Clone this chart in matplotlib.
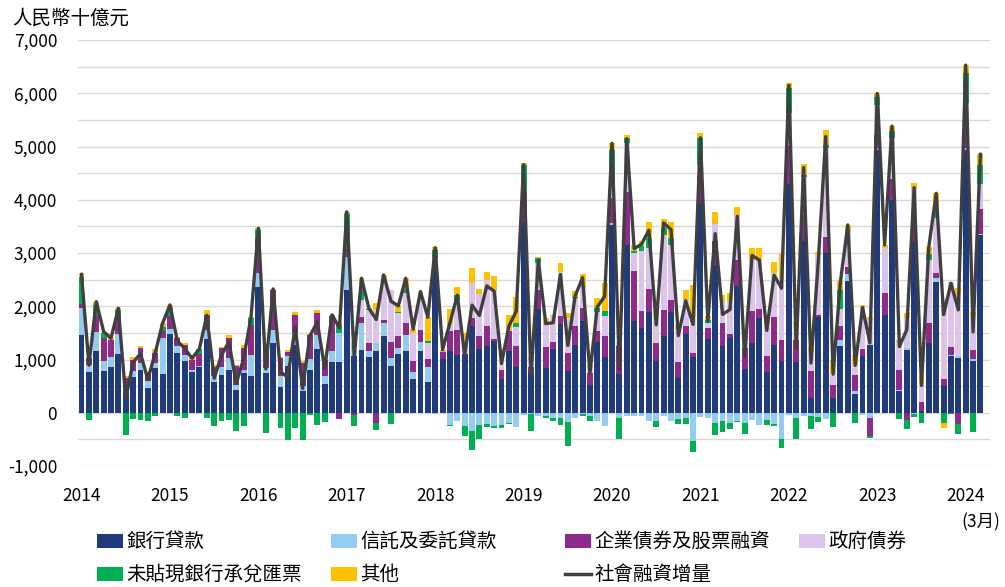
import numpy as np
import matplotlib
matplotlib.use("Agg")
import matplotlib.pyplot as plt
from matplotlib.patches import Rectangle
from matplotlib.lines import Line2D
from matplotlib.ticker import FuncFormatter, MultipleLocator

plt.rcParams['font.family'] = ['Noto Sans CJK TC', 'DejaVu Sans']

# ---------------- data (RMB billion), monthly Jan-2014 .. Mar-2024 ----------------
year_labels = ['2014', '2015', '2016', '2017', '2018', '2019',
               '2020', '2021', '2022', '2023', '2024']
last_label = '(3月)'

bank_loans = [
    1462, 756, 1169, 787, 850, 1106, 356, 662, 794, 462, 837, 731,      # 2014
    1481, 1119, 981, 762, 856, 1381, 569, 706, 794, 419, 744, 694,      # 2015
    2356, 744, 1307, 481, 869, 1276, 400, 794, 1201, 544, 944, 944,     # 2016
    2308, 1057, 1182, 1038, 1151, 1445, 882, 1101, 1151, 638, 1151, 575,  # 2017
    2714, 1013, 1151, 1088, 1107, 1632, 1195, 1257, 1351, 632, 1151, 857,  # 2018
    3590, 744, 1945, 838, 1195, 1664, 775, 1263, 1714, 525, 1320, 1038,  # 2019
    3527, 731, 3152, 1714, 1589, 1901, 963, 1445, 1883, 650, 1476, 1044,  # 2020
    3921, 1382, 2777, 1245, 1413, 2383, 819, 1307, 1770, 757, 1276, 963,  # 2021
    4290, 944, 3233, 275, 1795, 3008, 275, 1245, 2483, 356, 1069, 1263,   # 2022
    4934, 1839, 3996, 400, 1182, 3215, 30, 1307, 2464, 494, 1057, 1026,   # 2023
    4934, 963, 3340,                                                      # 2024
]
trust_entrusted = [
    500, 144, 356, 187, 206, 375, 0, 131, 137, 125, 94, 669,
    94, 137, 106, 44, 20, 175, 112, 162, 231, 94, 62, 394,
    275, 100, 238, 200, 188, 219, 94, 212, 262, 138, 225, 550,
    625, 219, 500, 131, 156, 238, 144, 112, 312, 119, 169, 281,
    -20, 0, -225, -163, -256, -350, -225, -206, -244, -225, -194, -275,
    -38, -20, -69, -69, -100, -100, -181, -100, -30, -60, -162, -244,
    44, -100, -69, -69, -69, -162, -162, -69, -150, -119, -100, -538,
    -81, -100, -194, -162, -194, -162, -194, -131, -225, -131, -212, -500,
    -38, -94, -60, -60, -81, -119, 0, 125, 125, 44, -50, -94,
    31, 0, 0, 31, 31, -31, 0, 0, 75, 0, 31, 31,
    31, 50, 19,
]
corp_bonds_equity = [
    81, 125, 294, 425, 312, 294, 294, 200, 281, 144, 200, 137,
    244, 144, 187, 187, 231, 281, 187, 344, 375, 356, 406, 563,
    644, 330, 769, 344, 75, 344, 438, 456, 406, 312, 650, -119,
    150, -50, 112, 138, -194, 50, 312, 219, 219, 206, 225, 150,
    94, 119, 388, 469, 0, 144, 238, 375, 31, 175, 375, 388,
    531, 120, 363, 406, 125, 144, 344, 369, 250, 219, 206, 406,
    456, 520, 1000, 950, 313, 425, 356, 488, 238, 300, 156, 75,
    531, 206, 456, 438, 69, 488, 394, 606, 175, 313, 519, 406,
    719, 413, 481, 500, 44, 300, 250, 263, 138, 313, 125, -344,
    250, 419, 394, 375, -144, 344, 175, 375, 81, 144, 156, -219,
    500, 169, 469,
]
gov_bonds = [
    0, 0, 0, 0, 0, 0, 0, 0, 0, 0, 0, 0,
    0, 0, 0, 0, 0, 0, 0, 0, 0, 0, 0, 0,
    0, 0, 0, 0, 0, 0, 0, 0, 0, 0, 0, 0,
    0, 0, 325, 625, 625, 763, 969, 438, 563, 531, 700, 300,
    94, 0, 100, 563, 300, 657, 800, 863, 925, 281, 20, 356,
    0, 150, 500, 406, 488, 831, 656, 519, 406, 94, 375, 375,
    219, 50, 906, 331, 1144, 763, 600, 1407, 1032, 606, 488, 688,
    200, 94, 313, 388, 625, 844, 230, 956, 925, 600, 825, 1157,
    613, 300, 719, 375, 1126, 1657, 219, 313, 625, 188, 800, 481,
    563, 832, 775, 531, 563, 650, 313, 1188, 1032, 1500, 1188, 1157,
    344, 625, 469,
]
bank_acceptances = [
    512, -144, 206, 94, 0, 156, -412, -112, -144, -150, -69, 81,
    144, -69, -100, 0, 94, -100, -250, -162, -131, -350, -256, 125,
    150, -381, 0, -287, -506, -287, -506, -37, -225, -181, 0, 156,
    650, -200, 188, 10, -125, 0, -213, 31, 75, 0, 0, 50,
    156, 0, -31, 94, -175, -344, -269, -62, -44, -62, -20, 81,
    531, -330, 94, -31, -50, -125, -438, 31, -40, -100, 62, 100,
    688, -394, 94, 50, 88, 188, -106, 125, 125, -88, -106, -206,
    500, 62, -219, -206, -113, -20, -200, 0, 0, -94, -44, -156,
    469, -406, 25, -250, -94, 62, -269, 363, 0, -200, 0, -44,
    156, 0, 125, -125, -169, -50, -194, 106, 156, -200, -31, -188,
    563, -369, 356,
]
others = [
    44, 12, 62, 31, 31, 31, 31, 62, 44, 44, 62, 62,
    62, 19, 31, 30, 0, 94, 31, 31, 62, 31, 62, 19,
    40, 30, 12, 31, 38, 62, 31, 20, 62, 20, 20, 62,
    40, 30, 219, 20, 138, 94, 0, 106, 206, 75, 31, 438,
    62, 50, 306, 156, 100, 281, 88, 156, 263, 125, 294, 500,
    44, 30, 30, 125, 31, 181, 106, 112, 238, 62, 188, 512,
    125, 0, 62, 106, 100, 313, 0, 169, 313, 100, 188, 594,
    94, 75, 231, 144, 138, 156, 0, 219, 219, 100, 219, 469,
    94, 50, 206, 94, 62, 281, 250, 156, 156, 188, 31, 50,
    62, 62, 94, 31, 94, 100, 188, 144, 313, -94, 31, 125,
    156, 80, 200,
]

series_names = ['銀行貸款', '信託及委託貸款', '企業債券及股票融資', '政府債券',
                '未貼現銀行承兌匯票', '其他']
line_name = '社會融資增量'
colors = ['#1F3B7C', '#93CBF1', '#8E2A8C', '#DCC3EC', '#00B050', '#FFC000']
line_color = '#404040'

# ---------------- figure ----------------
W, H = 1005, 587
fig = plt.figure(figsize=(W / 100, H / 100), dpi=100)
ax = fig.add_axes([78 / W, 1 - 466 / H, (990 - 78) / W, (466 - 40) / H])

comps = [bank_loans, trust_entrusted, corp_bonds_equity, gov_bonds,
         bank_acceptances, others]
n = len(bank_loans)
x = np.arange(n)
pos_base = np.zeros(n)
neg_base = np.zeros(n)
for vals, col in zip(comps, colors):
    v = np.asarray(vals, dtype=float)
    pos = np.where(v > 0, v, 0.0)
    neg = np.where(v < 0, v, 0.0)
    ax.bar(x, pos, bottom=pos_base, width=0.8, color=col, linewidth=0, zorder=2)
    ax.bar(x, neg, bottom=neg_base, width=0.8, color=col, linewidth=0, zorder=2)
    pos_base += pos
    neg_base += neg

total = np.sum(np.array(comps, dtype=float), axis=0)
ax.plot(x, total, color=line_color, lw=2.4, zorder=3, solid_joinstyle='round')

ax.set_ylim(-1000, 7000)
ax.set_xlim(-0.48, n + 0.3)
ax.yaxis.set_major_locator(MultipleLocator(1000))
ax.yaxis.set_minor_locator(MultipleLocator(500))
ax.yaxis.set_major_formatter(FuncFormatter(lambda v, p: f'{int(v):,}'))
ax.grid(axis='y', which='both', color='#D9D9D9', lw=1.0, zorder=0)
ax.set_axisbelow(True)
for s in ax.spines.values():
    s.set_visible(False)
ax.tick_params(axis='both', which='both', length=0)
ax.tick_params(axis='y', labelsize=12.5, pad=15)
ax.tick_params(axis='x', labelsize=12.5, pad=15)
ax.set_xticks(np.arange(0, n, 12))
ax.set_xticklabels(year_labels)

fig.text(12 / W, 1 - 18 / H, '人民幣十億元', fontsize=14, ha='left', va='center')
fig.text(1000 / W, 1 - 522 / H, last_label, fontsize=12.5, ha='right', va='center')

# ---------------- legend (manual layout) ----------------
col_x = [97, 331, 565, 799]
row_y = [541, 574]
entries = [(0, 0, 0), (1, 0, 1), (2, 0, 2), (3, 0, 3), (4, 1, 0), (5, 1, 1)]
for idx, r, c in entries:
    fig.add_artist(Rectangle((col_x[c] / W, 1 - (row_y[r] + 7) / H), 26 / W, 14 / H,
                             transform=fig.transFigure, color=colors[idx], lw=0))
    fig.text((col_x[c] + 29) / W, 1 - row_y[r] / H, series_names[idx],
             fontsize=14, ha='left', va='center')
fig.add_artist(Line2D([col_x[2] / W, (col_x[2] + 26) / W],
                      [1 - row_y[1] / H, 1 - row_y[1] / H],
                      transform=fig.transFigure, color=line_color, lw=2.5))
fig.text((col_x[2] + 29) / W, 1 - row_y[1] / H, line_name,
         fontsize=14, ha='left', va='center')

fig.savefig('out.png', dpi=100)
